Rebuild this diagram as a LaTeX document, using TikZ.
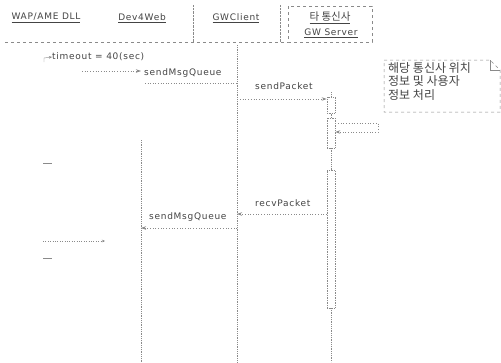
\documentclass[tikz,border=0pt]{standalone}
\usepackage{fontspec}
\setmainfont[LetterSpace=8]{DejaVu Sans}
\newfontfamily\kr{Noto Sans CJK KR}
\usetikzlibrary{arrows.meta,calc}
\definecolor{txt}{HTML}{444444}
\definecolor{ln}{HTML}{8A8A8A}
\tikzset{
  lbl/.style={font=\fontsize{9}{10}\selectfont, text=txt, inner sep=0pt},
  hdr/.style={font=\fontsize{9}{10}\selectfont, text=txt, inner sep=0pt},
  life/.style={draw=ln, densely dotted, line width=0.8pt},
  msg/.style={draw=ln, dotted, line width=0.7pt, -{Stealth[length=5pt,width=3.5pt]}},
  act/.style={draw=ln, densely dotted, line width=0.7pt, fill=white},
  notebox/.style={draw=ln, dashed, line width=0.5pt},
}
\begin{document}
\begin{tikzpicture}[x=1pt,y=-1pt]
\useasboundingbox[fill=white] (0,0) rectangle (501,362);
% headers
\node[hdr] (h1) at (46,18) {\underline{WAP/AME DLL}};
\node[hdr] (h2) at (142,18) {\underline{Dev4Web}};
\node[hdr] (h3) at (236,18) {\underline{GWClient}};
\node[hdr,font=\kr\fontsize{10.5}{12}\selectfont] (h4a) at (330,18) {\underline{타 통신사}};
\node[hdr] (h4b) at (331,33) {\underline{GW Server}};
\draw[notebox] (288,6) rectangle (372,42);
\draw[draw=ln, densely dotted] (193,5) -- (193,42);
\draw[draw=ln, densely dotted] (280,5) -- (280,42);
\draw[draw=ln, dashed, line width=0.4pt] (5,42) -- (288,42);
% lifelines
\coordinate (l1t) at (141,140); \coordinate (l1b) at (141,362);
\coordinate (l2t) at (237,45);  \coordinate (l2b) at (237,362);
\coordinate (l3t) at (331,92);  \coordinate (l3b) at (331,362);
\draw[life] (l1t) -- (l1b);
\draw[life] (l2t) -- (l2b);
\draw[life] (l3t) -- (l3b);
% activation boxes
\node[act, minimum width=8pt, minimum height=16pt, inner sep=0pt] (a1) at (331,105) {};
\node[act, minimum width=8pt, minimum height=30pt, inner sep=0pt] (a2) at (331,133) {};
\node[act, minimum width=8pt, minimum height=138pt, inner sep=0pt] (a3) at (331,239) {};
% timeout note
\node[lbl, anchor=west] (to) at (52,57) {timeout = 40(sec)};
\coordinate (tos) at (44,62);
\draw[draw=ln, -{Stealth[length=3pt,width=2.5pt]}] (tos) -- ++(0,-4) -- (to.west);
% sendMsgQueue (in)
\coordinate (s1) at (82,71);
\coordinate (s1e) at (141,71);
\draw[msg] (s1) -- (s1e);
\node[lbl, anchor=west] (smq1) at (144,73) {sendMsgQueue};
\coordinate (r1a) at (145,83);
\coordinate (r1b) at (237,83);
\draw[draw=ln, dotted, line width=0.6pt] (r1a) -- (r1b);
% sendPacket
\node[lbl, anchor=west] (sp) at (255,86) {sendPacket};
\coordinate (sps) at (240,99);
\draw[msg] (sps) -- (a1.west|-sps);
% self message
\coordinate (sm1) at (378,123);
\coordinate (sm2) at (378,132);
\draw[msg] ($(a2.east)+(0,-10)$) -- (sm1) -- (sm2) -- ($(a2.east)+(0,-1)$);
% note
\draw[notebox] (384,60) -- (490,60) -- (500,70) -- (500,112) -- (384,112) -- cycle;
\draw[draw=ln, line width=0.4pt] (490,60) -- (490,70) -- (500,70);
\node[lbl, anchor=north west, align=left, font=\kr\fontsize{12}{13.5}\selectfont] (note) at (388,62) {해당 통신사 위치\\정보 및 사용자\\정보 처리};
% recvPacket
\node[lbl, anchor=west] (rp) at (255,203) {recvPacket};
\coordinate (rpe) at (237,214);
\draw[msg] (a3.west|-rpe) -- (rpe);
% sendMsgQueue (out)
\node[lbl, anchor=west] (smq2) at (149,217) {sendMsgQueue};
\coordinate (s2s) at (237,228);
\coordinate (s2e) at (141,228);
\draw[msg] (s2s) -- (s2e);
% left side marks
\coordinate (m1a) at (43,163); \coordinate (m1b) at (52,163);
\draw[draw=ln] (m1a) -- (m1b);
\coordinate (m2a) at (43,241); \coordinate (m2b) at (105,241);
\draw[draw=ln, dotted, -{Stealth[length=3pt,width=2.5pt]}] (m2a) -- (m2b);
\coordinate (m3a) at (43,258); \coordinate (m3b) at (52,258);
\draw[draw=ln] (m3a) -- (m3b);
\end{tikzpicture}
\end{document}
